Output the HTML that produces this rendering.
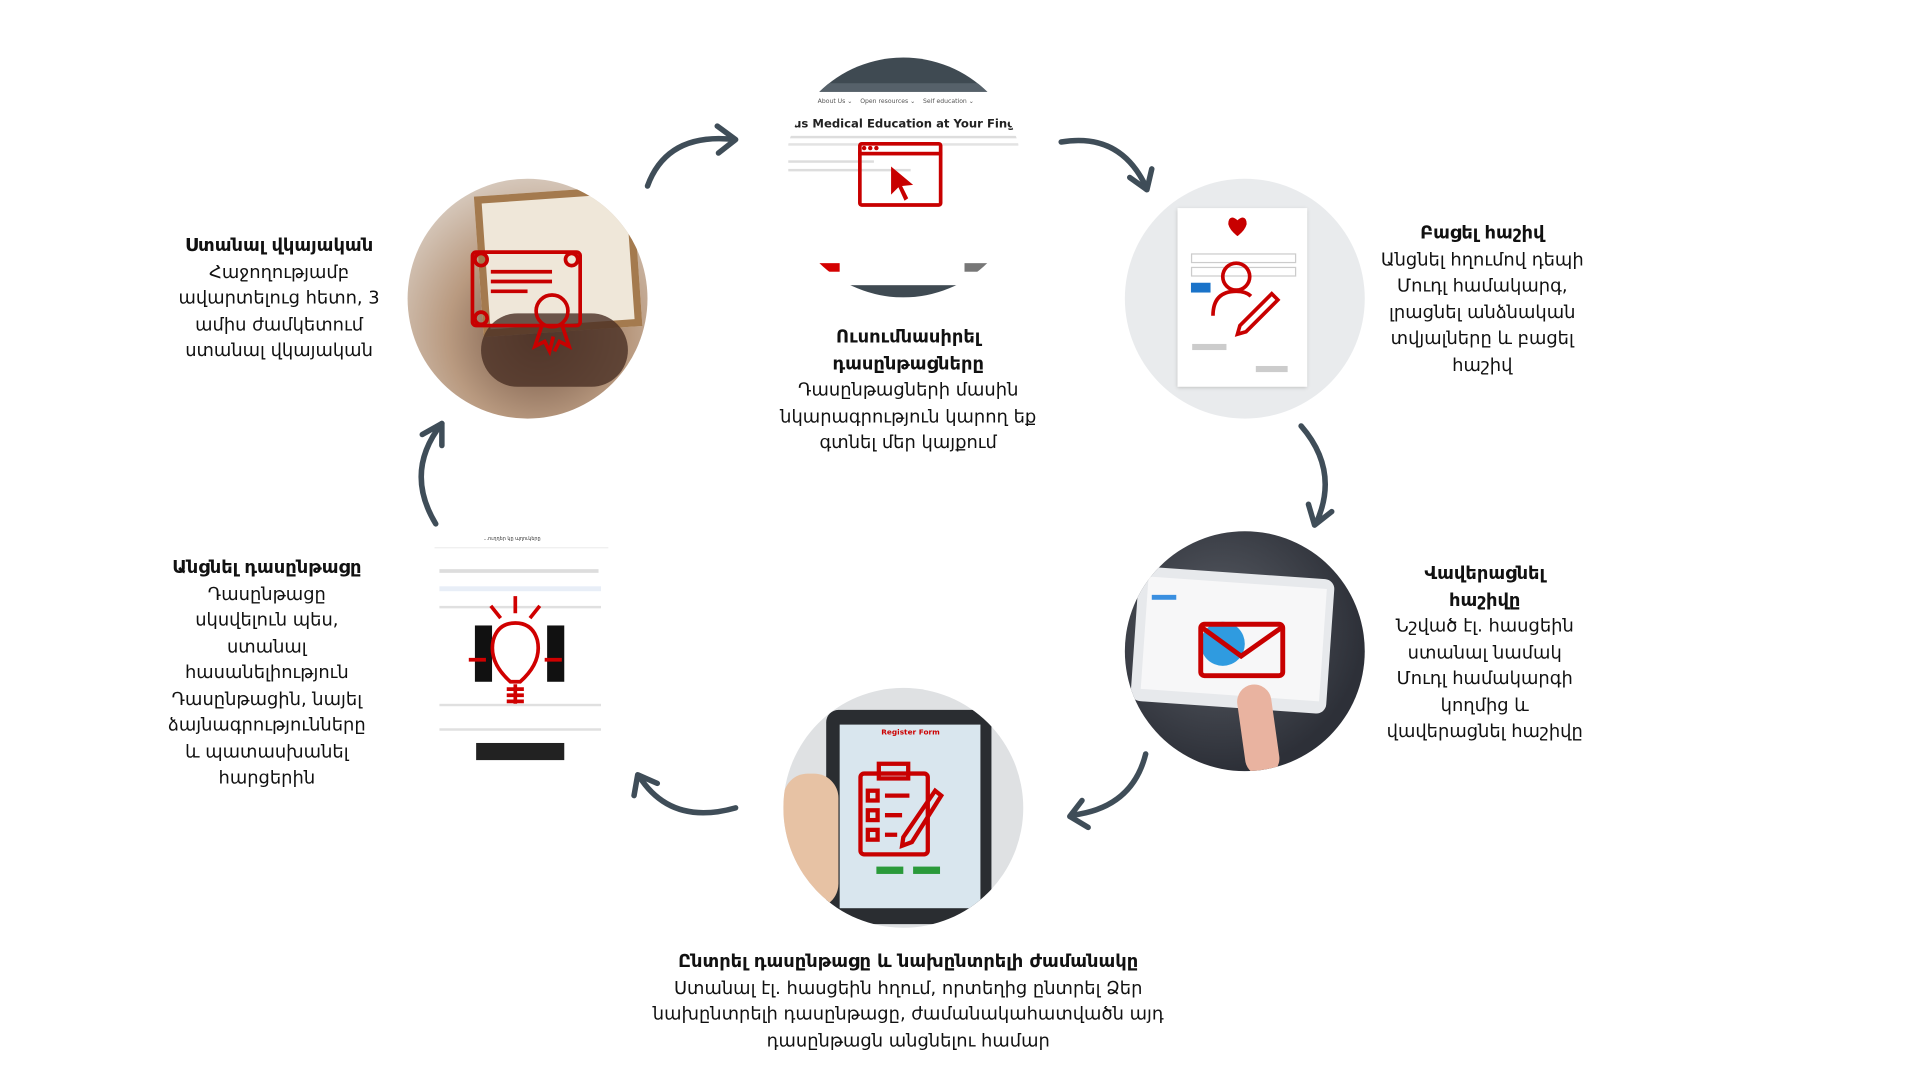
<!DOCTYPE html>
<html><head><meta charset="utf-8">
<style>
html,body{margin:0;padding:0;background:#fff;width:1920px;height:1080px;overflow:hidden}
#w{position:absolute;left:0;top:0;width:1569px;height:883px;transform:scale(1.224);transform-origin:0 0}
.t{position:absolute;font-family:"DejaVu Sans",sans-serif;font-size:14.6px;line-height:21.5px;color:#111;text-align:center;white-space:nowrap;transform:translateX(-50%)}
.t b{font-size:14.6px}
.c{position:absolute;border-radius:50%;overflow:hidden}
</style></head><body><div id="w">

<!-- top circle -->
<div class="c" style="left:640px;top:47px;width:196px;height:196px;background:#fff">
  <div style="position:absolute;left:0;top:0;width:196px;height:28px;background:#3f4a52"></div>
  <div style="position:absolute;left:0;top:21px;width:196px;height:7px;background:#56616a"></div>
  <div style="position:absolute;left:0;top:186px;width:196px;height:10px;background:#3f4a52"></div>
  <div style="position:absolute;left:28px;top:33px;font:5px 'DejaVu Sans';color:#555;white-space:nowrap">About Us ⌄ &nbsp;&nbsp; Open resources ⌄ &nbsp;&nbsp; Self education ⌄</div>
  <div style="position:absolute;left:8px;top:49px;font:bold 9.5px 'DejaVu Sans';color:#222;white-space:nowrap">us Medical Education at Your Fingert</div>
  <div style="position:absolute;left:4px;top:64px;width:188px;height:2px;background:#ddd"></div>
  <div style="position:absolute;left:4px;top:70px;width:188px;height:2px;background:#e3e3e3"></div>
  <div style="position:absolute;left:4px;top:84px;width:70px;height:2px;background:#ddd"></div>
  <div style="position:absolute;left:4px;top:91px;width:100px;height:2px;background:#ddd"></div>
  <div style="position:absolute;left:26px;top:168px;width:20px;height:7px;background:#d40000"></div>
  <div style="position:absolute;left:148px;top:168px;width:22px;height:7px;background:#777"></div>
  <div style="position:absolute;left:61px;top:69px;width:69px;height:53px;border:3px solid #c80000;border-radius:3px;box-sizing:border-box"></div>
  <div style="position:absolute;left:61px;top:77px;width:69px;height:3px;background:#c80000"></div>
  <svg style="position:absolute;left:0;top:0" width="196" height="196"><path d="M88 89 L88 112 L94 106 L99 117 L102 115 L97 105 L106 104 Z" fill="#c80000"/><circle cx="66" cy="74" r="1.8" fill="#c80000"/><circle cx="71" cy="74" r="1.8" fill="#c80000"/><circle cx="76" cy="74" r="1.8" fill="#c80000"/></svg>
</div>

<!-- right top circle -->
<div class="c" style="left:919px;top:146px;width:196px;height:196px;background:#e9ebed">
  <div style="position:absolute;left:43px;top:24px;width:106px;height:146px;background:#fff;box-shadow:0 1px 3px #bbb"></div>
  <div style="position:absolute;left:54px;top:61px;width:84px;height:6px;border:1px solid #ccc"></div>
  <div style="position:absolute;left:54px;top:72px;width:84px;height:6px;border:1px solid #ccc"></div>
  <div style="position:absolute;left:54px;top:85px;width:16px;height:8px;background:#1a73c9"></div>
  <div style="position:absolute;left:55px;top:135px;width:28px;height:5px;background:#ccc"></div>
  <div style="position:absolute;left:107px;top:153px;width:26px;height:5px;background:#ccc"></div>
  <svg style="position:absolute;left:0;top:0" width="196" height="196" fill="none" stroke="#c80000" stroke-width="3"><path d="M92 36 q-6-6-6 1 q1 4 6 8 q5-4 6-8 q0-7-6-1z" fill="#c80000"/><circle cx="91" cy="80" r="11"/><path d="M72 112 q0-20 19-20 q8 0 12 4"/><path d="M94 120 l26-26 l5 5 l-26 26 l-7 2z"/></svg>
</div>

<!-- right bottom circle (photo) -->
<div class="c" style="left:919px;top:434px;width:196px;height:196px;background:radial-gradient(circle at 40% 40%,#5a5e66,#2d3038 70%)">
  <div style="position:absolute;left:8px;top:34px;width:160px;height:110px;background:#e7e9ec;border-radius:8px;transform:rotate(4deg)"></div>
  <div style="position:absolute;left:16px;top:42px;width:146px;height:92px;background:#f7f7f8;transform:rotate(4deg)"></div>
  <div style="position:absolute;left:22px;top:52px;width:20px;height:4px;background:#3a8fe0"></div>
  <div style="position:absolute;left:95px;top:125px;width:28px;height:75px;background:#e9b3a0;border-radius:14px;transform:rotate(-8deg)"></div>
  <svg style="position:absolute;left:0;top:0" width="196" height="196"><circle cx="80" cy="92" r="18" fill="#2f9be0"/><rect x="62" y="76" width="67" height="42" rx="3" fill="none" stroke="#c80000" stroke-width="4"/><path d="M62 78 L95 102 L129 78" fill="none" stroke="#c80000" stroke-width="4"/></svg>
</div>

<!-- bottom circle -->
<div class="c" style="left:640px;top:562px;width:196px;height:196px;background:#dfe1e3">
  <div style="position:absolute;left:35px;top:18px;width:135px;height:175px;background:#2a2d31;border-radius:10px"></div>
  <div style="position:absolute;left:46px;top:30px;width:115px;height:150px;background:#d9e6ee"></div>
  <div style="position:absolute;left:80px;top:33px;font:bold 6px 'DejaVu Sans';color:#c00">Register Form</div>
  <div style="position:absolute;left:76px;top:146px;width:22px;height:6px;background:#2a9a3a"></div>
  <div style="position:absolute;left:106px;top:146px;width:22px;height:6px;background:#2a9a3a"></div>
  <div style="position:absolute;left:0;top:70px;width:45px;height:110px;background:#e7c2a4;border-radius:20px"></div>
  <svg style="position:absolute;left:0;top:0" width="196" height="196" fill="none" stroke="#c80000" stroke-width="3.5"><rect x="63" y="70" width="55" height="66" rx="3"/><rect x="78" y="62" width="24" height="12"/><rect x="69" y="84" width="8" height="8"/><rect x="69" y="100" width="8" height="8"/><rect x="69" y="116" width="8" height="8"/><path d="M83 88h20M83 104h14M83 120h10"/><path d="M98 122l26-38 5 4-24 38-8 3z"/></svg>
</div>

<!-- left top circle (photo) -->
<div class="c" style="left:333px;top:146px;width:196px;height:196px;background:radial-gradient(circle at 55% 65%,#6e5040,#b99a80 45%,#d8cbbf 80%)">
  <div style="position:absolute;left:58px;top:10px;width:130px;height:115px;border:6px solid #a47a4e;background:#efe7d9;transform:rotate(-4deg);box-sizing:border-box"></div>
  <div style="position:absolute;left:60px;top:110px;width:120px;height:60px;background:#4a3024;border-radius:40px;opacity:.8"></div>
  <svg style="position:absolute;left:0;top:0" width="196" height="196" fill="none" stroke="#c80000" stroke-width="3"><rect x="53" y="60" width="88" height="60" rx="3"/><circle cx="60" cy="66" r="5"/><circle cx="134" cy="66" r="5"/><circle cx="60" cy="114" r="5"/><path d="M68 76h50M68 84h50M68 92h30"/><circle cx="118" cy="108" r="13"/><path d="M110 119l-6 18 8-4 4 8 3-12M126 119l6 18-8-4-4 8"/></svg>
</div>

<!-- left bottom screenshot -->
<div style="position:absolute;left:355px;top:435px;width:142px;height:192px;background:#fff">
  <div style="position:absolute;left:40px;top:2px;font:4px 'DejaVu Sans';color:#333">...ուղղեր կը պղուկերը</div>
  <div style="position:absolute;left:0;top:12px;width:142px;height:1px;background:#eee"></div>
  <div style="position:absolute;left:4px;top:30px;width:130px;height:3px;background:#ddd"></div>
  <div style="position:absolute;left:4px;top:44px;width:132px;height:4px;background:#e8eef7"></div>
  <div style="position:absolute;left:4px;top:60px;width:132px;height:2px;background:#e0e0e0"></div>
  <div style="position:absolute;left:4px;top:140px;width:132px;height:2px;background:#e0e0e0"></div>
  <div style="position:absolute;left:4px;top:160px;width:132px;height:2px;background:#e0e0e0"></div>
  <div style="position:absolute;left:34px;top:172px;width:72px;height:14px;background:#222"></div>
  <div style="position:absolute;left:33px;top:76px;width:14px;height:46px;background:#111"></div>
  <div style="position:absolute;left:92px;top:76px;width:14px;height:46px;background:#111"></div>
  <svg style="position:absolute;left:0;top:0" width="142" height="192" fill="none" stroke="#d00000" stroke-width="3"><path d="M62 122 q-18-16-14-34 q4-14 18-14 q14 0 18 14 q4 18-14 34 z" fill="#fff"/><path d="M66 124v16M59 128h14M59 133h14M59 138h14"/><path d="M66 52v14M46 60l8 10M86 60l-8 10M28 104h14M90 104h14"/></svg>
</div>

<!-- arrows -->
<svg style="position:absolute;left:0;top:0" width="1569" height="883" fill="none" stroke="#3f4d58" stroke-width="4.5" stroke-linecap="round" stroke-linejoin="round">
  <path d="M529 152 Q545 108 600 114"/><path d="M586 103 L601 114 L587 125"/>
  <path d="M867 116 Q915 108 936 152"/><path d="M923 145 L937 155 L941 138"/>
  <path d="M1063 348 Q1095 385 1075 428"/><path d="M1069 412 L1074 429 L1088 418"/>
  <path d="M936 616 Q925 660 876 666"/><path d="M884 654 L874 667 L889 676"/>
  <path d="M601 660 Q548 675 522 634"/><path d="M518 650 L521 633 L537 640"/>
  <path d="M356 428 Q330 385 361 346"/><path d="M345 355 L361 346 L361 364"/>
</svg>

<!-- texts -->
<div class="t" style="left:228px;top:190px"><b>Ստանալ վկայական</b><br>Հաջողությամբ<br>ավարտելուց հետո, 3<br>ամիս ժամկետում<br>ստանալ վկայական</div>
<div class="t" style="left:742px;top:265px"><b>Ուսումնասիրել<br>դասընթացները</b><br>Դասընթացների մասին<br>նկարագրություն կարող եք<br>գտնել մեր կայքում</div>
<div class="t" style="left:1211px;top:180px"><b>Բացել հաշիվ</b><br>Անցնել հղումով դեպի<br>Մուդլ համակարգ,<br>լրացնել անձնական<br>տվյալները և բացել<br>հաշիվ</div>
<div class="t" style="left:1213px;top:458px"><b>Վավերացնել<br>հաշիվը</b><br>Նշված էլ. հասցեին<br>ստանալ նամակ<br>Մուդլ համակարգի<br>կողմից և<br>վավերացնել հաշիվը</div>
<div class="t" style="left:218px;top:453px"><b>Անցնել դասընթացը</b><br>Դասընթացը<br>սկսվելուն պես,<br>ստանալ<br>հասանելիություն<br>Դասընթացին, նայել<br>ձայնագրությունները<br>և պատասխանել<br>հարցերին</div>
<div class="t" style="left:742px;top:775px"><b>Ընտրել դասընթացը և նախընտրելի ժամանակը</b><br>Ստանալ էլ. հասցեին հղում, որտեղից ընտրել Ձեր<br>նախընտրելի դասընթացը, ժամանակահատվածն այդ<br>դասընթացն անցնելու համար</div>

</div></body></html>
